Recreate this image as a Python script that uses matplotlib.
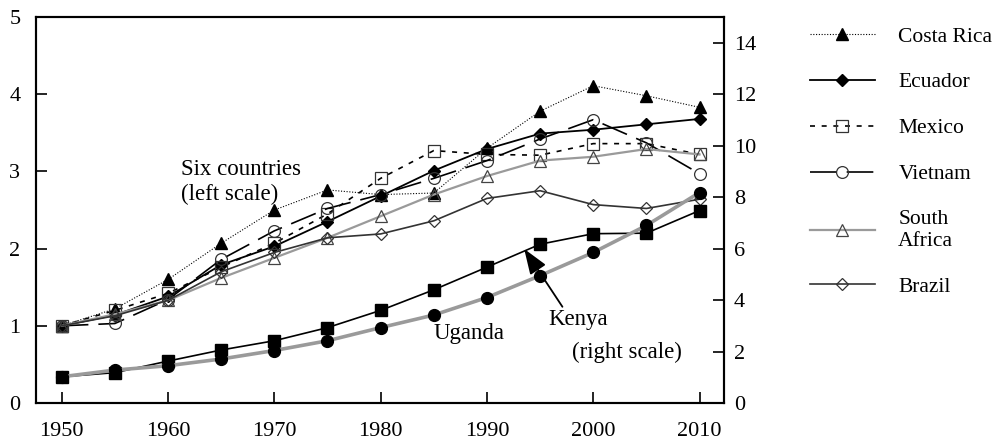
import matplotlib.pyplot as plt

years = [1950, 1955, 1960, 1965, 1970, 1975, 1980, 1985, 1990, 1995, 2000, 2005, 2010]

# six countries, left scale
costa_rica = [1.0, 1.22, 1.6, 2.07, 2.5, 2.76, 2.7, 2.72, 3.3, 3.78, 4.11, 3.98, 3.83]
ecuador = [1.0, 1.14, 1.38, 1.79, 2.03, 2.35, 2.68, 3.01, 3.29, 3.49, 3.54, 3.61, 3.68]
mexico = [1.0, 1.2, 1.42, 1.76, 2.07, 2.45, 2.91, 3.27, 3.22, 3.21, 3.36, 3.36, 3.22]
vietnam = [1.0, 1.03, 1.34, 1.86, 2.23, 2.52, 2.7, 2.91, 3.14, 3.42, 3.67, 3.37, 2.97]
south_africa = [1.0, 1.15, 1.33, 1.62, 1.88, 2.14, 2.42, 2.70, 2.94, 3.14, 3.19, 3.29, 3.22]
brazil = [1.0, 1.13, 1.33, 1.7, 1.95, 2.14, 2.19, 2.36, 2.65, 2.75, 2.57, 2.52, 2.64]

# right scale
kenya = [1.02, 1.18, 1.63, 2.06, 2.42, 2.93, 3.6, 4.4, 5.28, 6.17, 6.58, 6.6, 7.48]
uganda = [1.02, 1.28, 1.45, 1.71, 2.04, 2.42, 2.93, 3.42, 4.1, 4.95, 5.85, 6.9, 8.18]

left_ticks = [0, 1, 2, 3, 4, 5]
right_ticks = [0, 2, 4, 6, 8, 10, 12, 14]
x_ticks = [1950, 1960, 1970, 1980, 1990, 2000, 2010]

plt.rcParams['font.family'] = 'Liberation Serif'
plt.rcParams['font.size'] = 15.5

fig = plt.figure(figsize=(10, 4.42), dpi=100)
ax = fig.add_axes([0.0357, 0.0882, 0.6883, 0.8733])
ax2 = ax.twinx()

gray = '#9a9a9a'
ms = 8.5

ax.plot(years, costa_rica, color='k', lw=0.8, linestyle=(0, (1, 1.5)),
        marker='^', ms=ms, mfc='k', mec='k', label='Costa Rica')
ax.plot(years, ecuador, color='k', lw=1.3, marker='D', ms=6.5, mfc='k', mec='k',
        label='Ecuador')
ax.plot(years, mexico, color='k', lw=1.2, linestyle=(0, (3, 4)),
        marker='s', ms=ms, mfc='none', mec='#333333', mew=0.9, label='Mexico')
ax.plot(years, vietnam, color='k', lw=1.2, linestyle=(0, (16, 6)),
        marker='o', ms=ms, mfc='none', mec='#333333', mew=0.9, label='Vietnam')
ax.plot(years, south_africa, color=gray, lw=1.6,
        marker='^', ms=ms, mfc='none', mec='#444444', mew=0.9, label='South\nAfrica')
ax.plot(years, brazil, color='#333333', lw=1.2,
        marker='D', ms=6.5, mfc='none', mec='#333333', mew=0.9, label='Brazil')

ax2.plot(years, kenya, color='k', lw=1.2, marker='s', ms=8, mfc='k', mec='k')
ax2.plot(years, uganda, color=gray, lw=2.6, marker='o', ms=ms, mfc='k', mec='k')

ax.set_xlim(1947.55, 2012.3)
ax.set_ylim(0, 5)
ax2.set_ylim(0, 15)
ax.set_xticks(x_ticks)
ax.set_yticks(left_ticks)
ax2.set_yticks(right_ticks)

for s in ax.spines.values():
    s.set_linewidth(1.5)
for s in ax2.spines.values():
    s.set_linewidth(1.5)

ax.tick_params(axis='x', direction='in', length=8, width=1.2, pad=14, labelsize=16)
ax.tick_params(axis='y', direction='in', length=8, width=1.2, pad=11, labelsize=16)
ax2.tick_params(axis='y', direction='in', length=8, width=1.2, pad=7, labelsize=16)

fs = 16.5
ax.text(1961.2, 2.957, 'Six countries', va='baseline', fontsize=fs)
ax.text(1961.2, 2.633, '(left scale)', va='baseline', fontsize=fs)
ax.text(1985.0, 0.83, 'Uganda', va='baseline', fontsize=fs)
ax.text(1995.8, 1.01, 'Kenya', va='baseline', fontsize=fs)
ax.text(1998.0, 0.584, '(right scale)', va='baseline', fontsize=fs)

ax2.annotate('', xy=(1993.5, 5.99), xytext=(1997.1, 3.74),
             arrowprops=dict(arrowstyle='-|>,head_length=0.6,head_width=0.22',
                             color='k', lw=1.3, mutation_scale=26,
                             shrinkA=0, shrinkB=0))

handles, labels = ax.get_legend_handles_labels()
fig.legend(handles, labels, loc='upper left', bbox_to_anchor=(0.81, 0.94),
           frameon=False, borderpad=0, borderaxespad=0, handlelength=3.0,
           handletextpad=1.1, labelspacing=1.2)

fig.savefig('out.png', dpi=100)
